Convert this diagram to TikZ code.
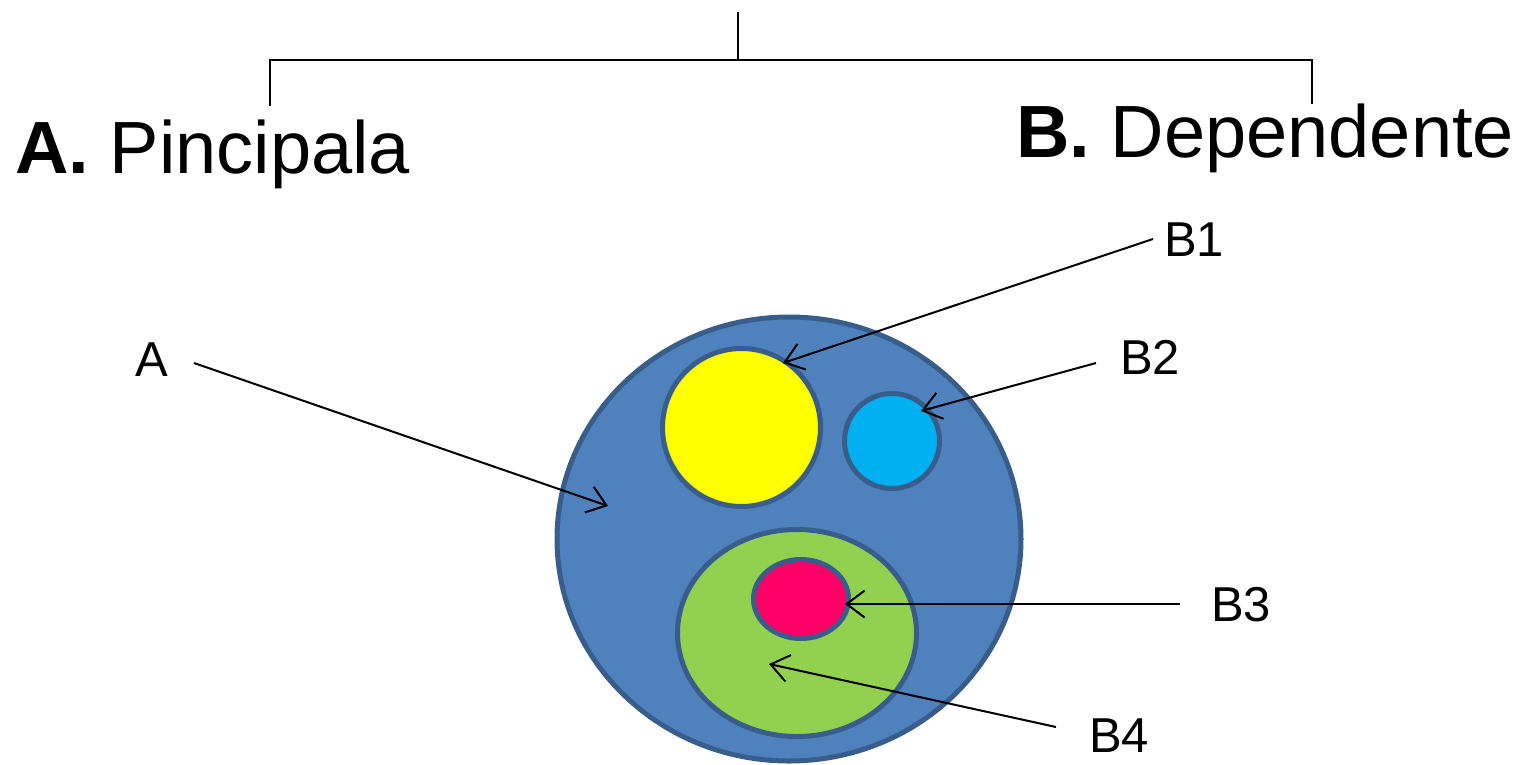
\documentclass[tikz,border=0pt]{standalone}
\usepackage{fontspec}
\setmainfont{Liberation Sans}
\usetikzlibrary{arrows.meta}
\definecolor{outerfill}{HTML}{4F81BD}
\definecolor{ringcol}{HTML}{385D8A}
\definecolor{yel}{HTML}{FFFF00}
\definecolor{cya}{HTML}{00B0F0}
\definecolor{grn}{HTML}{92D050}
\definecolor{pnk}{HTML}{FF0066}
\tikzset{
  blob/.style={draw=ringcol,line width=5pt},
  link/.style={line width=2pt},
  ptr/.style={line width=2pt,-{Straight Barb[length=18pt,width=27pt,line width=2pt]}},
  head/.style={anchor=base west,inner sep=0pt,font=\fontsize{74}{90}\selectfont},
  tag/.style={anchor=base west,inner sep=0pt,font=\fontsize{49}{58}\selectfont}
}
\begin{document}
\begin{tikzpicture}[x=1pt,y=-1pt]
\useasboundingbox (0,0) rectangle (1524,764);
% bracket
\coordinate (top) at (738,12);
\coordinate (mid) at (738,60);
\coordinate (lc) at (270,60);
\coordinate (rc) at (1312,60);
\coordinate (ld) at (270,106);
\coordinate (rd) at (1312,104);
\draw[link] (top) -- (mid);
\draw[link] (ld) -- (lc) -- (rc) -- (rd);
\node[head] (hA) at (15,173) {\textbf{A.} Pincipala};
\node[head] (hB) at (1016,157) {\textbf{B.} Dependente};
% sets
\draw[blob,fill=outerfill] (789,539) ellipse [x radius=232, y radius=222];
\draw[blob,fill=yel] (741.5,427.5) circle [radius=79];
\draw[blob,fill=cya] (892,441) circle [radius=47.5];
\draw[blob,fill=grn] (797,633) ellipse [x radius=119.5, y radius=103.5];
\draw[blob,fill=pnk] (801,599) ellipse [x radius=47.5, y radius=39.5];
% labels
\node[tag] (tA) at (135,376) {A};
\node[tag] (tB1) at (1164,256) {B1};
\node[tag] (tB2) at (1120,374) {B2};
\node[tag] (tB3) at (1211,621) {B3};
\node[tag] (tB4) at (1089,752) {B4};
% pointer ends
\coordinate (sA) at (194,363);  \coordinate (eA) at (608,506);
\coordinate (s1) at (1153,239); \coordinate (e1) at (783,363);
\coordinate (s2) at (1096,363); \coordinate (e2) at (921,411);
\coordinate (s3) at (1180,604); \coordinate (e3) at (845,604);
\coordinate (s4) at (1056,727); \coordinate (e4) at (769,664);
\draw[ptr] (sA) -- (eA);
\draw[ptr] (s1) -- (e1);
\draw[ptr] (s2) -- (e2);
\draw[ptr] (s3) -- (e3);
\draw[ptr] (s4) -- (e4);
\end{tikzpicture}
\end{document}
